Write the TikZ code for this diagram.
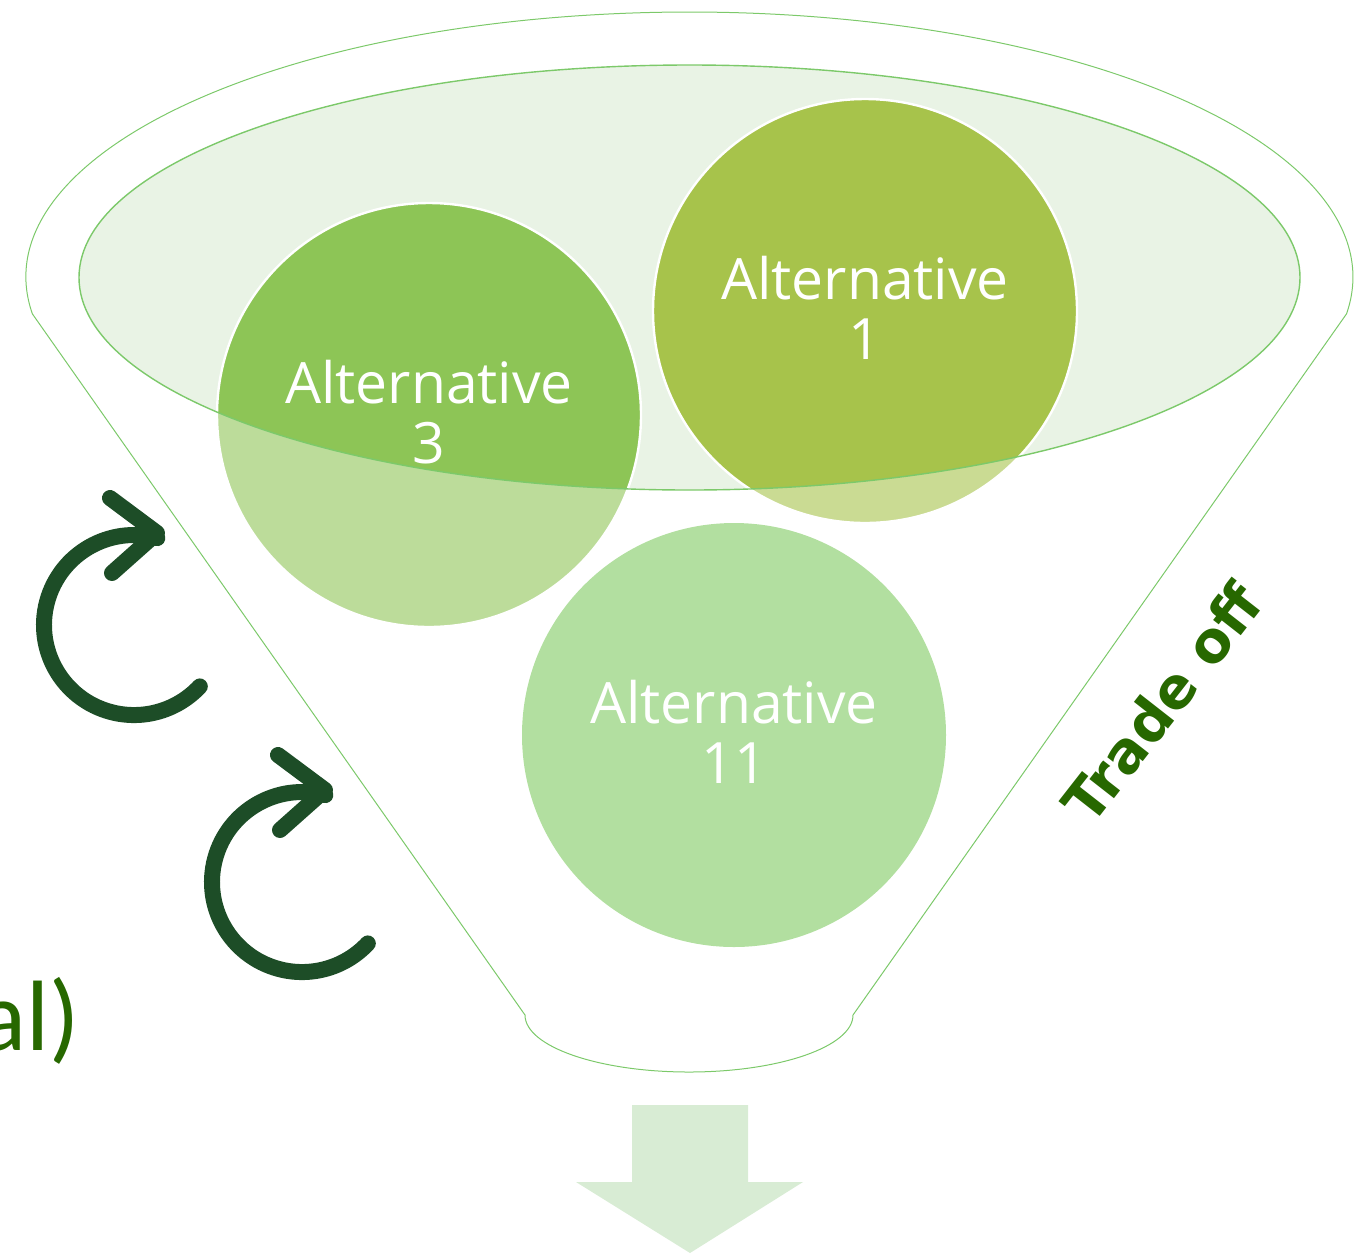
\documentclass[tikz,border=0pt]{standalone}
\usepackage{fontspec}
\setmainfont{Open Sans}
\newfontfamily\tradefont{DejaVu Sans}
\newfontfamily\notefont{Carlito}
\definecolor{lineg}{HTML}{7CC96A}
\definecolor{ellfill}{HTML}{E9F3E5}
\definecolor{altAdark}{HTML}{8DC556}
\definecolor{altAlight}{HTML}{BCDC9A}
\definecolor{altBdark}{HTML}{A7C34B}
\definecolor{altBlight}{HTML}{CADB93}
\definecolor{altC}{HTML}{B2DFA0}
\definecolor{downfill}{HTML}{D8ECD4}
\definecolor{cycg}{HTML}{1D4D27}
\definecolor{textg}{HTML}{276800}
\tikzset{
  funnelline/.style={draw=lineg, line width=0.5pt},
  ellline/.style={draw=lineg, line width=0.7pt},
  whiteedge/.style={draw=white, line width=1.2pt},
  alttext/.style={text=white, align=center, inner sep=0pt, font=\fontsize{28.5}{30}\selectfont},
  cyc/.style={draw=cycg, line width=8pt, line cap=round, line join=round},
}
\begin{document}
\begin{tikzpicture}[x=0.5pt,y=-0.5pt]
\useasboundingbox (0,0) rectangle (1359,1254);
% funnel outline
\draw[funnelline] (32.4,313.9) arc[start angle=172, end angle=368, x radius=663.5, y radius=265]
  -- (853,1015) arc[start angle=0, end angle=180, x radius=164, y radius=57] -- cycle;
% inner ellipse fill
\fill[ellfill] (689.5,277.5) ellipse[x radius=610.5, y radius=212.5];
% circles Alternative 3 and 1
\fill[altAlight] (429,415) circle[radius=212];
\fill[altBlight] (865,311) circle[radius=212];
\begin{scope}
\clip (689.5,277.5) ellipse[x radius=610.5, y radius=212.5];
\fill[altAdark] (429,415) circle[radius=212];
\fill[altBdark] (865,311) circle[radius=212];
\end{scope}
\draw[whiteedge] (429,415) circle[radius=212];
\draw[whiteedge] (865,311) circle[radius=212];
% circle Alternative 11
\fill[altC] (734,735) circle[radius=212];
% ellipse outline on top
\draw[ellline] (689.5,277.5) ellipse[x radius=610.5, y radius=212.5];
% texts
\node[alttext] (t3) at (429,412) {Alternative\\3};
\node[alttext] (t1) at (865,308) {Alternative\\1};
\node[alttext] (t11) at (734,732) {Alternative\\11};
% circular arrows
\draw[cyc] (157.3,538.1) arc[start angle=285, end angle=43, radius=90];
\draw[cyc] (110,498) -- (157,533) -- (112,573);
\draw[cyc] (325.3,795.1) arc[start angle=285, end angle=43, radius=90];
\draw[cyc] (278,755) -- (325,790) -- (280,830);
% down arrow
\fill[downfill] (632,1105) -- (748,1105) -- (748,1182) -- (803,1182) -- (690,1253) -- (576,1182) -- (632,1182) -- cycle;
% labels
\node[text=textg, font=\tradefont\bfseries\fontsize{28.5}{32}\selectfont, rotate=52, inner sep=0pt] (trade) at (1162,703) {Trade off};
\node[text=textg, font=\notefont\fontsize{50}{56}\selectfont, anchor=base east, inner sep=0pt] (note) at (80,1050) {al)};
\end{tikzpicture}
\end{document}
